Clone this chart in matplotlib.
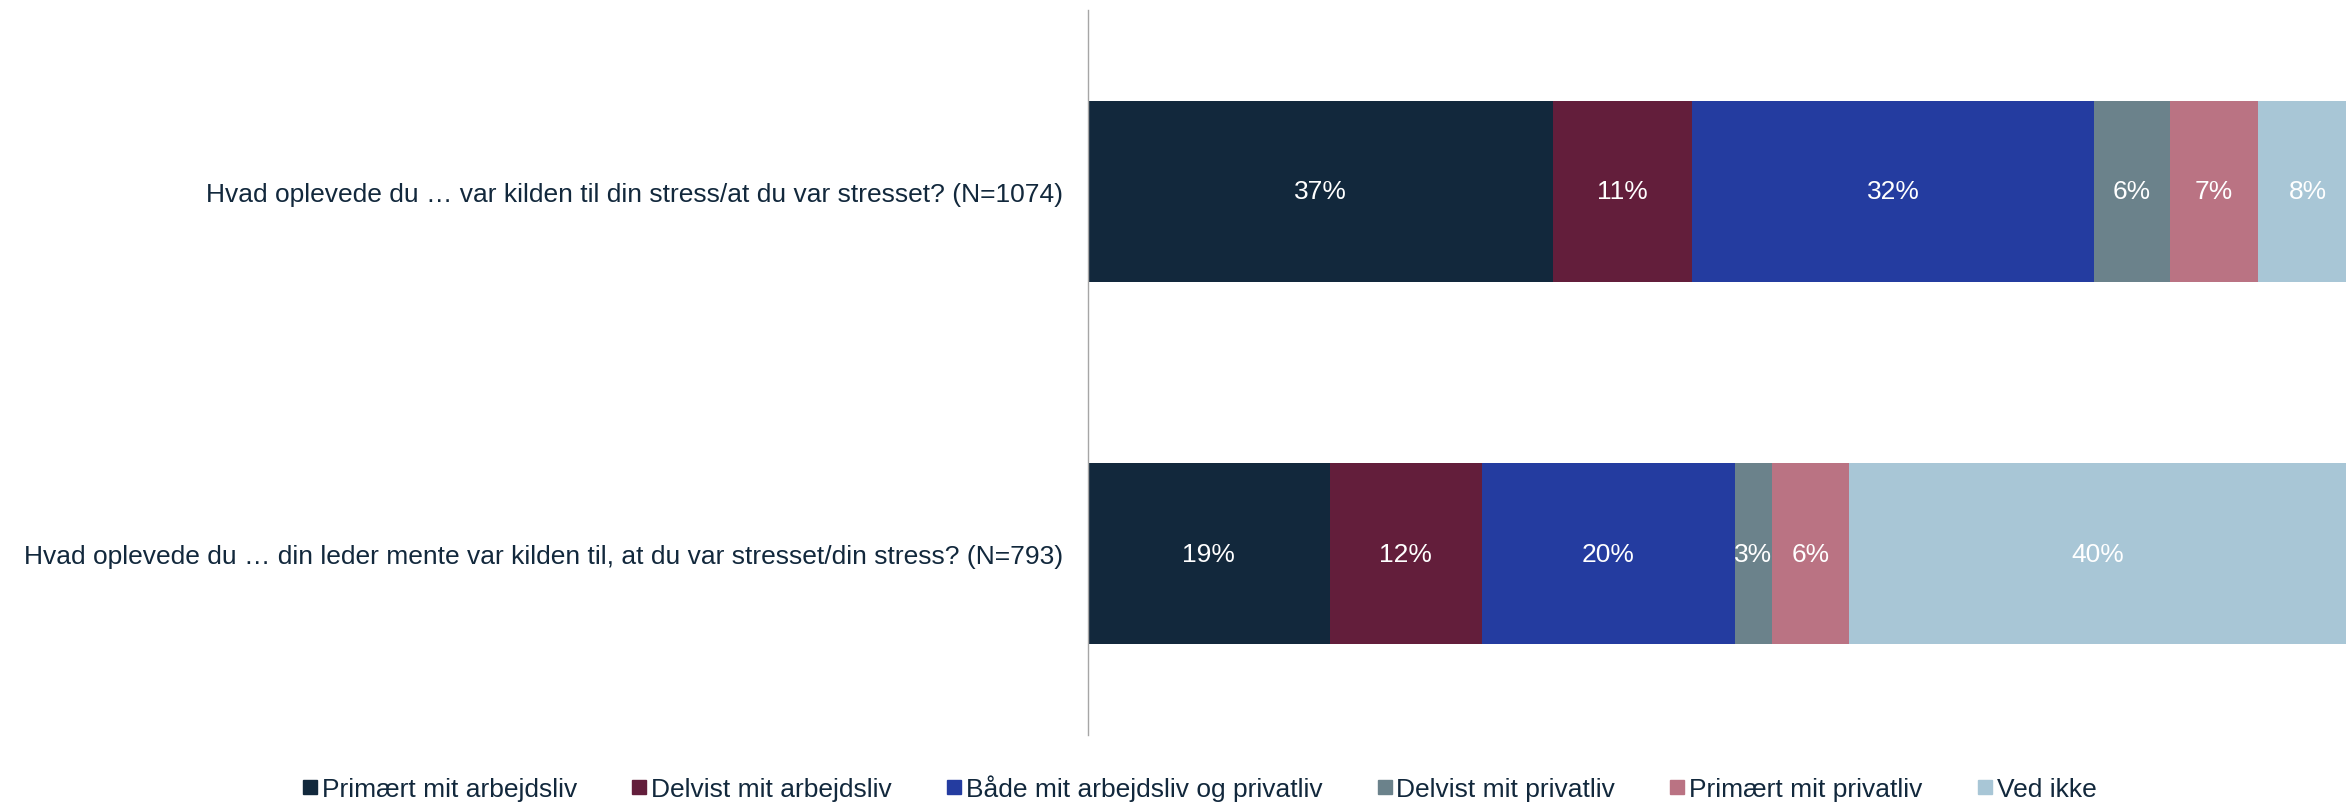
import matplotlib
matplotlib.use("Agg")
import matplotlib.pyplot as plt
from matplotlib.lines import Line2D

plt.rcParams['font.family'] = ['Liberation Sans', 'DejaVu Sans']

fsize = 19
text_color = '#12283C'

questions = ["Hvad oplevede du … var kilden til din stress/at du var stresset? (N=1074)",
             "Hvad oplevede du … din leder mente var kilden til, at du var stresset/din stress? (N=793)"]
categories = ["Primært mit arbejdsliv", "Delvist mit arbejdsliv", "Både mit arbejdsliv og privatliv",
              "Delvist mit privatliv", "Primært mit privatliv", "Ved ikke"]
colors = ['#12283C', '#631E3B', '#243CA0', '#6B828B', '#BA7383', '#A8C6D6']

# share per answer, question 1 and question 2
q1 = [37, 11, 32, 6, 7, 8]
q2 = [19.2, 12.1, 20.1, 3.0, 6.1, 39.5]

figure = plt.figure(figsize=(23.46, 8.03), dpi=100)
ax = figure.add_axes([1088 / 2346, 1 - 736 / 803, 1 - 1088 / 2346, (736 - 11) / 803])

y = [0, 1]
left = [0, 0]
for i, cat in enumerate(categories):
    vals = [q1[i], q2[i]]
    rects = ax.barh(y, vals, left=left, height=0.5, color=colors[i], label=cat)
    for rect, v in zip(rects, vals):
        ax.text(rect.get_x() + rect.get_width() / 2, rect.get_y() + rect.get_height() / 2,
                '{}%'.format(int(round(v))), color='white', fontsize=fsize,
                ha='center', va='center')
    left = [left[0] + vals[0], left[1] + vals[1]]

ax.set_xlim(0, 100)
ax.set_ylim(1.5, -0.5)
ax.set_yticks(y)
ax.set_yticklabels(questions, fontsize=fsize, color=text_color)
ax.tick_params(axis='y', length=0, pad=18)
ax.set_xticks([])
for s in ['top', 'right', 'bottom']:
    ax.spines[s].set_visible(False)
ax.spines['left'].set_color('#A6A6A6')
ax.spines['left'].set_linewidth(1)

handles = [Line2D([], [], marker='s', linestyle='none', markersize=10, color=c) for c in colors]
leg = figure.legend(handles, categories, loc='center', bbox_to_anchor=(1200 / 2346, 1 - 789 / 803),
                    ncol=6, frameon=False, fontsize=fsize, handlelength=0.5, handletextpad=0.2,
                    columnspacing=2.1, borderpad=0, borderaxespad=0)
for t in leg.get_texts():
    t.set_color(text_color)

plt.savefig('out.png', dpi=100)
